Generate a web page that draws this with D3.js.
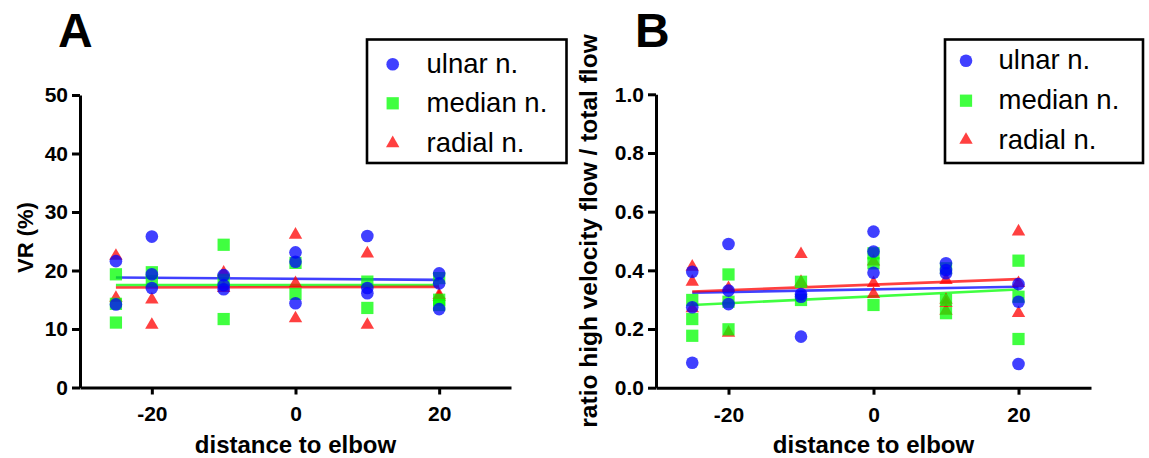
<!DOCTYPE html>
<html>
<head>
<meta charset="utf-8">
<script src="https://cdn.jsdelivr.net/npm/d3@7"></script>
<style>
  body { margin: 0; background: #fff; }
  text { font-family: "Liberation Sans", Arial, sans-serif; }
</style>
</head>
<body>
<div id="chart"></div>
<script>
// values: [distance to elbow, value]
const xTicks = [-20, 0, 20];
const vrTicks = [0, 10, 20, 30, 40, 50];
const ratioTicks = [0, 0.2, 0.4, 0.6, 0.8, 1.0];
const seriesNames = ['ulnar n.', 'median n.', 'radial n.'];

const vrUlnar = [
    [-25, 21.6], [-25, 14.2],
    [-20, 25.8], [-20, 19.35], [-20, 17.0],
    [-10, 19.2], [-10, 17.5], [-10, 16.8],
    [0, 23.1], [0, 21.5], [0, 14.4],
    [10, 25.9], [10, 17.0], [10, 16.1],
    [20, 19.5], [20, 17.8], [20, 13.4]
];
const vrMedian = [
    [-25, 19.35], [-25, 14.3], [-25, 11.1],
    [-20, 19.7], [-20, 18.2],
    [-10, 24.4], [-10, 18.4], [-10, 11.7],
    [0, 21.3], [0, 16.0],
    [10, 18.1], [10, 13.6],
    [20, 18.7], [20, 15.0], [20, 14.1]
];
const vrRadial = [
    [-25, 22.5], [-25, 15.3],
    [-20, 15.0], [-20, 10.7],
    [-10, 19.6], [-10, 17.0],
    [0, 26.1], [0, 17.8], [0, 11.8],
    [10, 22.9], [10, 10.7],
    [20, 15.8], [20, 15.5]
];
const vrFitUlnar = [[-25, 18.8], [20, 18.4]];
const vrFitMedian = [[-25, 17.5], [20, 17.5]];
const vrFitRadial = [[-25, 17.1], [20, 17.2]];

const ratioUlnar = [
    [-25, 0.395], [-25, 0.274], [-25, 0.085],
    [-20, 0.490], [-20, 0.331], [-20, 0.285],
    [-10, 0.319], [-10, 0.310], [-10, 0.174],
    [0, 0.532], [0, 0.464], [0, 0.392],
    [10, 0.424], [10, 0.401], [10, 0.390],
    [20, 0.353], [20, 0.293], [20, 0.081]
];
const ratioMedian = [
    [-25, 0.299], [-25, 0.234], [-25, 0.177],
    [-20, 0.386], [-20, 0.293], [-20, 0.199],
    [-10, 0.361], [-10, 0.299],
    [0, 0.458], [0, 0.424], [0, 0.282],
    [10, 0.407], [10, 0.299], [10, 0.254],
    [20, 0.433], [20, 0.310], [20, 0.166]
];
const ratioRadial = [
    [-25, 0.412], [-25, 0.361], [-25, 0.270],
    [-20, 0.339], [-20, 0.187],
    [-10, 0.455], [-10, 0.360],
    [0, 0.430], [0, 0.356], [0, 0.319],
    [10, 0.367], [10, 0.299], [10, 0.288], [10, 0.262],
    [20, 0.532], [20, 0.356], [20, 0.254]
];
const ratioFitUlnar = [[-25, 0.324], [20, 0.344]];
const ratioFitMedian = [[-25, 0.282], [20, 0.335]];
const ratioFitRadial = [[-25, 0.328], [20, 0.370]];

const colors = ['#0000ff', '#00ff00', '#ff0000'];
const symbols = [
    d3.symbol().type(d3.symbolCircle).size(125),
    d3.symbol().type(d3.symbolSquare).size(150),
    d3.symbol().type(d3.symbolTriangle).size(78)
];

const svg = d3.select('#chart')
    .append('svg')
    .attr('width', 1149)
    .attr('height', 458);

svg.append('rect').attr('width', 1149).attr('height', 458).attr('fill', '#fff');

// plain hyphen for negatives, like the original figure
const hyphen = f => d => f(d).replace('\u2212', '-');

function drawPanel(p) {
    const x = d3.scaleLinear().domain([-30, 30]).range(p.xRange);
    const y = d3.scaleLinear().domain(p.yDomain).range(p.yRange);
    const g = svg.append('g');

    const xAxis = g.append('g')
        .attr('transform', `translate(0, ${p.yRange[0]})`)
        .call(d3.axisBottom(x).tickValues(xTicks).tickFormat(hyphen(d3.format('d')))
            .tickSize(7).tickPadding(12).tickSizeOuter(0));
    const yAxis = g.append('g')
        .attr('transform', `translate(${p.xRange[0]}, 0)`)
        .call(d3.axisLeft(y).tickValues(p.yTicks).tickFormat(p.fmt)
            .tickSize(8).tickPadding(4).tickSizeOuter(0));

    [xAxis, yAxis].forEach(a => {
        a.select('.domain').attr('stroke', '#000').attr('stroke-width', 3);
        a.selectAll('.tick line').attr('stroke', '#000').attr('stroke-width', 3);
        a.selectAll('.tick text')
            .attr('fill', '#000')
            .style('font-family', '"Liberation Sans", Arial, sans-serif')
            .style('font-weight', 'bold')
            .style('font-size', '21px');
    });

    const line = d3.line().x(d => x(d[0])).y(d => y(d[1]));
    p.fits.forEach((f, i) => {
        g.append('path')
            .attr('d', line(f))
            .attr('fill', 'none')
            .attr('stroke', colors[i])
            .attr('stroke-opacity', 0.75)
            .attr('stroke-width', 2.6);
    });

    // radial first, ulnar on top
    [2, 1, 0].forEach(i => {
        g.append('g').selectAll('path')
            .data(p.series[i])
            .enter()
            .append('path')
            .attr('d', symbols[i])
            .attr('transform', d => `translate(${x(d[0])}, ${y(d[1])})`)
            .attr('fill', colors[i])
            .attr('fill-opacity', 0.75);
    });

    g.append('text')
        .attr('x', (p.xRange[0] + p.xRange[1]) / 2)
        .attr('y', 453)
        .attr('text-anchor', 'middle')
        .style('font-weight', 'bold')
        .style('font-size', '24px')
        .text('distance to elbow');

    g.append('text')
        .attr('transform', `translate(${p.yTitle.x}, ${p.yTitle.y}) rotate(-90)`)
        .attr('text-anchor', 'middle')
        .style('font-weight', 'bold')
        .style('font-size', p.yTitle.size + 'px')
        .text(p.yTitle.text);

    g.append('text')
        .attr('x', p.letter.x)
        .attr('y', 47)
        .style('font-weight', 'bold')
        .style('font-size', '48px')
        .text(p.letter.text);

    // legend
    const L = p.legend;
    const leg = g.append('g');
    leg.append('rect')
        .attr('x', L.x0).attr('y', 39.5)
        .attr('width', L.x1 - L.x0).attr('height', 123.5)
        .attr('fill', '#fff')
        .attr('stroke', '#000')
        .attr('stroke-width', 2.6);
    seriesNames.forEach((name, i) => {
        leg.append('path')
            .attr('d', symbols[i])
            .attr('transform', `translate(${L.markX}, ${L.rows[i]})`)
            .attr('fill', colors[i])
            .attr('fill-opacity', 0.75);
        leg.append('text')
            .attr('x', L.textX)
            .attr('y', L.rows[i] + 8.5)
            .style('font-size', '27.5px')
            .text(name);
    });
}

drawPanel({
    xRange: [80, 511],
    yDomain: [0, 50],
    yRange: [387.5, 95],
    yTicks: vrTicks,
    fmt: d3.format('d'),
    series: [vrUlnar, vrMedian, vrRadial],
    fits: [vrFitUlnar, vrFitMedian, vrFitRadial],
    yTitle: { x: 33, y: 237.5, size: 22, text: 'VR (%)' },
    letter: { x: 58, text: 'A' },
    legend: { x0: 367, x1: 566.5, markX: 392.7, textX: 426.5, rows: [64.3, 103.3, 143.3] }
});

drawPanel({
    xRange: [656, 1091],
    yDomain: [0, 1],
    yRange: [387.7, 94.3],
    yTicks: ratioTicks,
    fmt: d3.format('.1f'),
    series: [ratioUlnar, ratioMedian, ratioRadial],
    fits: [ratioFitUlnar, ratioFitMedian, ratioFitRadial],
    yTitle: { x: 597, y: 231, size: 24.5, text: 'ratio high velocity flow / total flow' },
    letter: { x: 635, text: 'B' },
    legend: { x0: 945, x1: 1143, markX: 966, textX: 998.5, rows: [60.7, 100.7, 140] }
});
</script>
</body>
</html>
